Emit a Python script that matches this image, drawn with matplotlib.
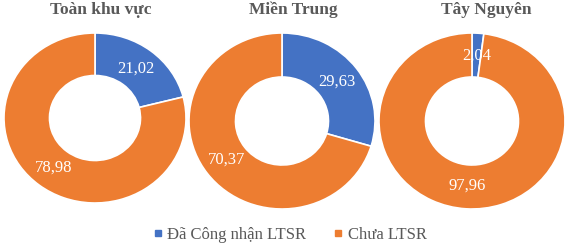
import numpy as np
import matplotlib.pyplot as plt
from matplotlib.lines import Line2D

regions = ['Toàn khu vực', 'Miền Trung', 'Tây Nguyên']
da_cong_nhan = [21.02, 29.63, 2.04]
chua_ltsr = [78.98, 70.37, 97.96]
series_names = ['Đã Công nhận LTSR', 'Chưa LTSR']

BLUE = '#4472C4'
ORANGE = '#ED7D31'
GREY = '#595959'

plt.rcParams['font.family'] = ['Liberation Serif', 'DejaVu Serif']

W, H = 572, 244
fig = plt.figure(figsize=(W / 100, H / 100), dpi=100)

# donut placement in pixels: centre x, centre y (from top), radius x, radius y
donut_cx = [95, 282, 472]
donut_cy = [118, 121, 121]
donut_rx = [91, 93, 93]
donut_ry = [85, 88, 88]
title_cx = [101, 293, 486]

for i, name in enumerate(regions):
    cx, cy, rx, ry = donut_cx[i], donut_cy[i], donut_rx[i], donut_ry[i]
    ax = fig.add_axes([(cx - rx) / W, (H - cy - ry) / H, 2 * rx / W, 2 * ry / H])
    vals = [da_cong_nhan[i], chua_ltsr[i]]
    wedges, _ = ax.pie(vals, colors=[BLUE, ORANGE], startangle=90,
                       counterclock=False, radius=1.0,
                       wedgeprops=dict(width=0.5, edgecolor='white', linewidth=1.2))
    for w, v in zip(wedges, vals):
        ang = np.deg2rad((w.theta1 + w.theta2) / 2)
        ax.text(0.74 * np.cos(ang), 0.74 * np.sin(ang), f'{v:.2f}'.replace('.', ','),
                ha='center', va='center', color='white', fontsize=12)
    ax.set_xlim(-1, 1)
    ax.set_ylim(-1, 1)
    ax.set_aspect('auto')
    fig.text(title_cx[i] / W, 1 - 10 / H, name, ha='center', va='center',
             fontsize=12.5, fontweight='bold', color=GREY)

handles = [Line2D([], [], marker='s', ls='', color=BLUE, markersize=4),
           Line2D([], [], marker='s', ls='', color=ORANGE, markersize=4)]
fig.legend(handles, series_names, loc='center', bbox_to_anchor=(290 / W, 1 - 235 / H),
           ncol=2, frameon=False, fontsize=12, labelcolor=GREY,
           handletextpad=0.3, columnspacing=1.7, handlelength=0.5,
           borderpad=0, borderaxespad=0)

fig.savefig('out.png', dpi=100)
